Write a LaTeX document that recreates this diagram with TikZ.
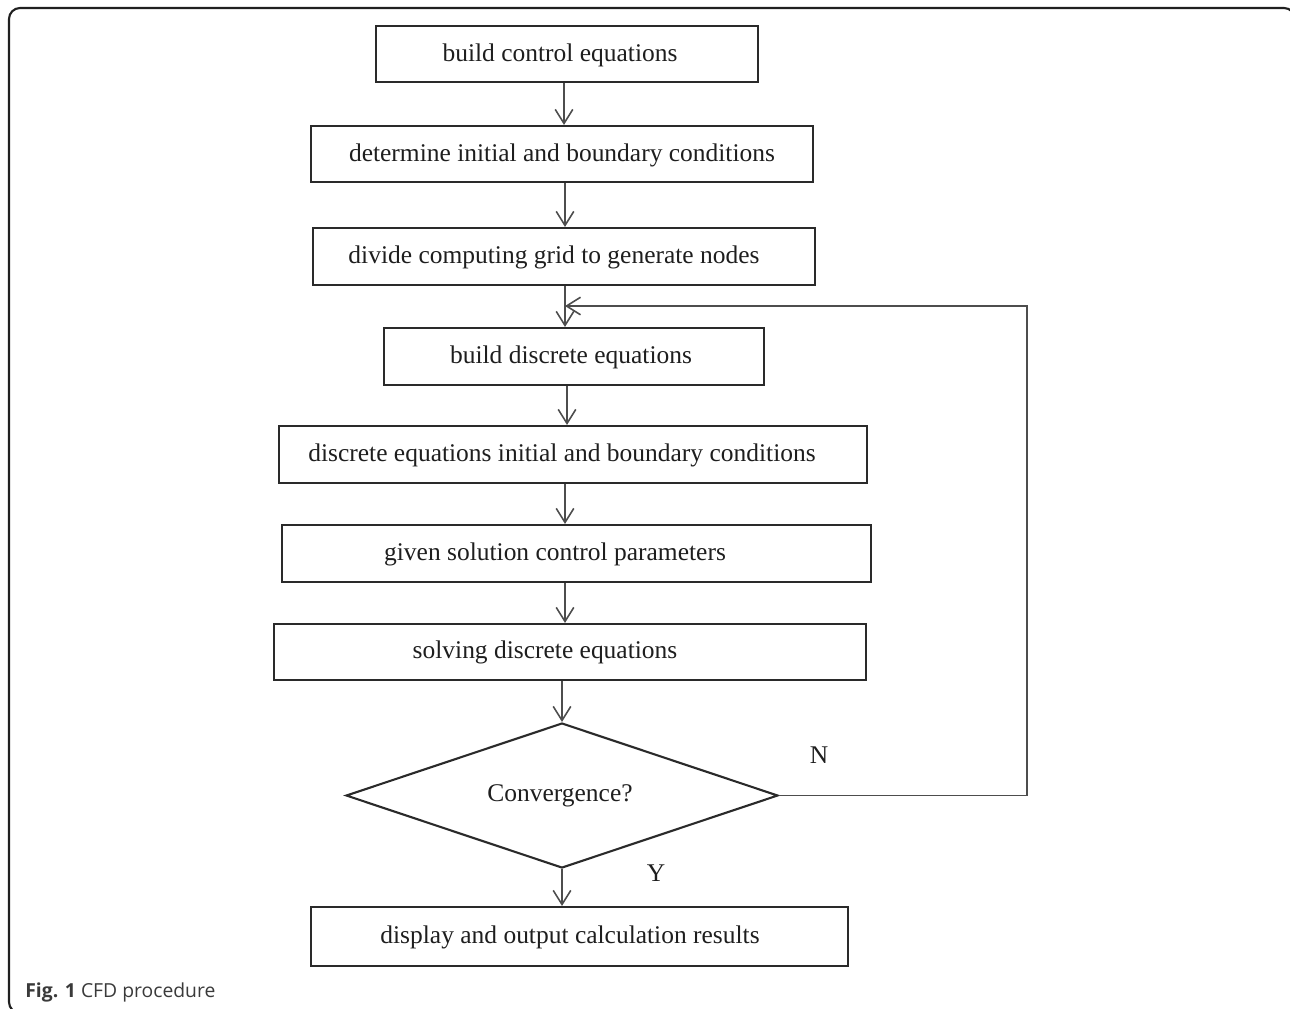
\documentclass[tikz,border=0pt]{standalone}
\usepackage{fontspec}
\setmainfont{Liberation Serif}
\newfontfamily\capfont{Open Sans}
\usetikzlibrary{arrows.meta,shapes.geometric}
\definecolor{boxc}{HTML}{2A2A2A}
\definecolor{arrc}{HTML}{4D4D4D}
\definecolor{txtc}{HTML}{1E1E1E}
\definecolor{framec}{HTML}{202020}
\definecolor{capc}{HTML}{3A3A3A}
\begin{document}
\begin{tikzpicture}[x=0.02cm,y=-0.02cm,
  box/.style n args={2}{draw=boxc, line width=1.2pt, inner sep=0pt,
    minimum width=#1*0.02cm, minimum height=#2*0.02cm},
  txt/.style={text=txtc, inner sep=0pt, font=\fontsize{14.5}{17}\selectfont},
  arr/.style={draw=arrc, line width=0.9pt, -{Straight Barb[length=8pt,width=10pt]}},
  loopline/.style={draw=arrc, line width=1.1pt}]
\useasboundingbox (0,0) rectangle (1290,1008);
\begin{scope}
\clip (0,0) rectangle (1290,1008);
\draw[framec, line width=1.2pt, rounded corners=0.22cm] (9,8) rectangle (1295,1013);
\end{scope}
% boxes
\node[box={382}{56}] (b1) at (567,54) {};
\node[box={502}{56}] (b2) at (562,154) {};
\node[box={502}{57}] (b3) at (564,256.5) {};
\node[box={380}{57}] (b4) at (574,356.5) {};
\node[box={588}{57}] (b5) at (573,454.5) {};
\node[box={589}{57}] (b6) at (576.5,553.5) {};
\node[box={592}{56}] (b7) at (570,652) {};
\node[draw=boxc, line width=1.2pt, diamond, shape aspect=3, inner sep=0pt,
      minimum width=432*0.02cm, minimum height=145*0.02cm] (dia) at (562,795.5) {};
\node[box={537}{59}] (b8) at (579.5,936.5) {};
% texts
\node[txt] (t1) at (560,55) {build control equations};
\node[txt] (t2) at (562,155) {determine initial and boundary conditions};
\node[txt] (t3) at (554,257) {divide computing grid to generate nodes};
\node[txt] (t4) at (571,357) {build discrete equations};
\node[txt] (t5) at (562,455) {discrete equations initial and boundary conditions};
\node[txt] (t6) at (555,554) {given solution control parameters};
\node[txt] (t7) at (545,652) {solving discrete equations};
\node[txt] (td) at (560,796) {Convergence?};
\node[txt] (t8) at (570,937) {display and output calculation results};
\node[txt] (ln) at (819,755) {N};
\node[txt] (ly) at (656,873) {Y};
% arrow columns
\coordinate (a1) at (564,0);
\coordinate (a2) at (565,0);
\coordinate (a3) at (565,0);
\coordinate (a4) at (567,0);
\coordinate (a5) at (565,0);
\coordinate (a6) at (565,0);
\draw[arr] (b1.south -| a1) -- (b2.north -| a1);
\draw[arr] (b2.south -| a2) -- (b3.north -| a2);
\draw[arr] (b3.south -| a3) -- (b4.north -| a3);
\draw[arr] (b4.south -| a4) -- (b5.north -| a4);
\draw[arr] (b5.south -| a5) -- (b6.north -| a5);
\draw[arr] (b6.south -| a6) -- (b7.north -| a6);
\draw[arr] (b7.south -| dia.north) -- (dia.north);
\draw[arr] (dia.south) -- (b8.north -| dia.south);
% loop back
\coordinate (jn) at (565,306);
\coordinate (lr) at (1027,0);
\draw[loopline] (dia.east) -- (dia.east -| lr) -- (lr |- jn) -- (jn);
\draw[arr] (lr |- jn) ++(-10,0) -- (jn);
% caption
\node[anchor=base west, inner sep=0pt, text=capc] (cap) at (25,997)
  {\capfont\fontsize{11}{13}\selectfont\textbf{Fig. 1} CFD procedure};
\end{tikzpicture}
\end{document}
